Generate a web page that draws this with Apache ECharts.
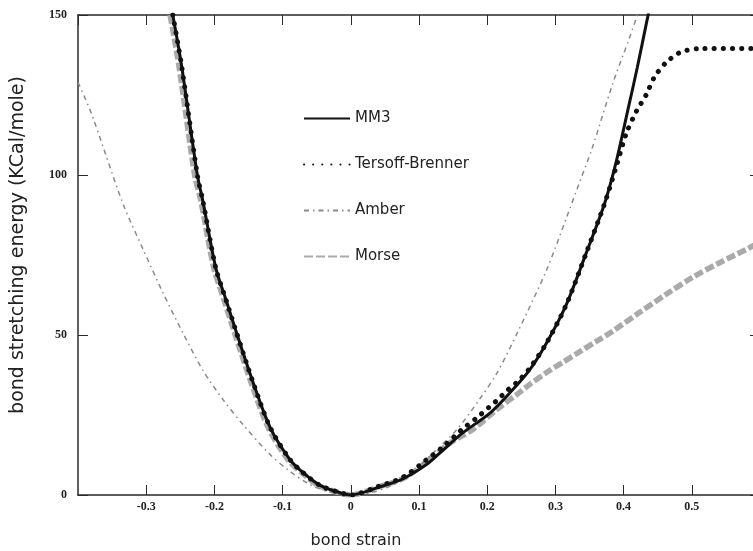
<!DOCTYPE html>
<html>
<head>
<meta charset="utf-8">
<script src="https://cdn.jsdelivr.net/npm/echarts@6/dist/echarts.min.js"></script>
<style>
  html, body { margin: 0; padding: 0; background: #fff; }
  #chart { width: 753px; height: 551px; }
</style>
</head>
<body>
<div id="chart"></div>
<script>
// values (strain, kcal/mole)
const mm3Strain = [-0.261, -0.248, -0.225, -0.217, -0.198, -0.183, -0.168, -0.143, -0.118, -0.089, -0.07, -0.045, -0.02, 0,
  0.042, 0.076, 0.111, 0.13, 0.164, 0.204, 0.237, 0.262, 0.287, 0.316, 0.345, 0.372, 0.389, 0.408, 0.42, 0.434, 0.437]
const mm3Energy = [150, 134, 100, 92, 71, 61, 51, 35, 21, 11, 7, 3, 1, 0,
  2.5, 5, 9.5, 13, 19.4, 25.6, 32.8, 39, 47.5, 59.5, 75.5, 91, 104, 122, 133.5, 148, 151]

const tbStrain = [-0.261, -0.248, -0.225, -0.217, -0.198, -0.183, -0.168, -0.143, -0.118, -0.089, -0.07, -0.045, -0.02, 0,
  0.042, 0.076, 0.111, 0.135, 0.162, 0.184, 0.203, 0.215, 0.23, 0.244, 0.262, 0.287, 0.316, 0.345, 0.372, 0.389,
  0.404, 0.419, 0.433, 0.445, 0.463, 0.485, 0.515, 0.6]
const tbEnergy = [150, 134, 100, 92, 71, 61, 51, 35, 21, 11, 7, 3, 1, 0,
  2.8, 5.5, 11, 15, 20.3, 24, 27.5, 29.7, 32.8, 35.3, 39.5, 47.5, 59.5, 75.5, 91, 102.5,
  113, 120, 125, 130.5, 135.3, 138.5, 139.5, 139.5]

const amberStrain = [-0.4, -0.38, -0.334, -0.305, -0.275, -0.246, -0.217, -0.187, -0.158, -0.12, -0.09, -0.06, -0.03, 0,
  0.03, 0.06, 0.09, 0.12, 0.155, 0.189, 0.214, 0.244, 0.287, 0.316, 0.335, 0.353, 0.384, 0.408, 0.422]
const amberEnergy = [129, 119, 91, 77, 63, 50.6, 39, 29.7, 22, 13, 7.5, 3.3, 0.9, 0,
  0.8, 3, 7, 13, 20.3, 30, 38, 50.6, 70.3, 86.5, 97.5, 107.8, 128.5, 142.5, 151]

const morseStrain = [-0.265, -0.252, -0.229, -0.22, -0.201, -0.186, -0.171, -0.146, -0.121, -0.092, -0.072, -0.048, -0.022, 0,
  0.04, 0.08, 0.126, 0.145, 0.179, 0.213, 0.247, 0.262, 0.287, 0.311, 0.335, 0.36, 0.384, 0.423, 0.463, 0.501, 0.54, 0.584, 0.6]
const morseEnergy = [150, 134, 100, 92, 71, 61, 51, 35, 21, 11, 7, 3, 1, 0,
  2.5, 5.5, 13, 16.2, 20.5, 26.5, 32, 34.5, 38.3, 41.5, 44.7, 48, 51.2, 57, 62.8, 68, 72.5, 77.2, 79]

const strainTicks = { min: -0.4, max: 0.6, interval: 0.1 }
const energyTicks = { min: 0, max: 150, interval: 50 }

const pairs = (xs, ys) => xs.map((x, i) => [x, ys[i]])

const axisColor = '#2a2a2a'
const tickFont = { fontFamily: 'Liberation Serif', fontWeight: 'bold', fontSize: 12, color: '#222' }
const axisLine = { show: true, onZero: false, lineStyle: { color: axisColor, width: 1.5 } }
const axisTick = { show: true, inside: true, length: 10, lineStyle: { color: axisColor } }

const chart = echarts.init(document.getElementById('chart'))

chart.setOption({
  backgroundColor: '#fff',
  animation: false,
  grid: { left: 78, right: -7, top: 15, bottom: 56, outerBoundsMode: 'none' },
  legend: {
    orient: 'vertical',
    left: 298,
    top: 106,
    itemWidth: 46,
    itemHeight: 14,
    itemGap: 31,
    itemStyle: { opacity: 0 },
    textStyle: { fontFamily: 'DejaVu Sans', fontSize: 15, color: '#222' },
    data: ['MM3', 'Tersoff-Brenner', 'Amber', 'Morse']
  },
  xAxis: [
    {
      type: 'value',
      position: 'bottom',
      ...strainTicks,
      name: 'bond strain',
      nameLocation: 'middle',
      nameGap: 38,
      nameTextStyle: { fontFamily: 'DejaVu Sans', fontSize: 16, color: '#222', padding: [0, 126, 0, 0] },
      axisLine,
      axisTick,
      axisLabel: {
        ...tickFont,
        margin: 6,
        showMinLabel: false,
        showMaxLabel: false,
        formatter: v => String(Math.round(v * 10) / 10)
      },
      splitLine: { show: false }
    },
    {
      type: 'value',
      position: 'top',
      ...strainTicks,
      axisLine,
      axisTick,
      axisLabel: { show: false },
      splitLine: { show: false }
    }
  ],
  yAxis: [
    {
      type: 'value',
      position: 'left',
      ...energyTicks,
      name: 'bond stretching energy (KCal/mole)',
      nameLocation: 'middle',
      nameGap: 50,
      nameTextStyle: { fontFamily: 'DejaVu Sans', fontSize: 19, color: '#222', padding: [0, 0, 0, 20] },
      axisLine,
      axisTick,
      axisLabel: { ...tickFont, margin: 11 },
      splitLine: { show: false }
    },
    {
      type: 'value',
      position: 'right',
      ...energyTicks,
      axisLine,
      axisTick,
      axisLabel: { show: false },
      splitLine: { show: false }
    }
  ],
  series: [
    {
      name: 'Morse',
      type: 'line',
      data: pairs(morseStrain, morseEnergy),
      smooth: 0.3,
      symbol: 'none',
      z: 2,
      lineStyle: { color: '#aaaaaa', width: 5.5, type: [9, 3] },
      itemStyle: { color: '#aaaaaa' }
    },
    {
      name: 'Amber',
      type: 'line',
      data: pairs(amberStrain, amberEnergy),
      smooth: 0.3,
      symbol: 'none',
      z: 3,
      lineStyle: { color: '#8a8a8a', width: 1.5, type: [5, 4, 1.5, 4] },
      itemStyle: { color: '#8a8a8a' }
    },
    {
      name: 'MM3',
      type: 'line',
      data: pairs(mm3Strain, mm3Energy),
      smooth: 0.3,
      symbol: 'none',
      z: 4,
      lineStyle: { color: '#111', width: 3 },
      itemStyle: { color: '#111' }
    },
    {
      name: 'Tersoff-Brenner',
      type: 'line',
      data: pairs(tbStrain, tbEnergy),
      smooth: 0.3,
      symbol: 'none',
      z: 5,
      lineStyle: { color: '#111', width: 5, type: [0.1, 9], cap: 'round' },
      itemStyle: { color: '#111' }
    }
  ]
})
</script>
</body>
</html>
